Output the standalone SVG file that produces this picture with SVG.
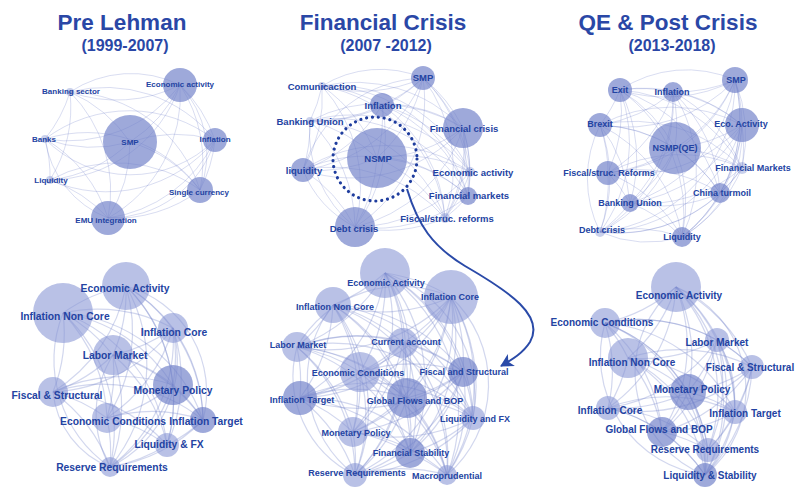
<svg xmlns="http://www.w3.org/2000/svg" width="801" height="488" viewBox="0 0 801 488">
  <defs>
    <style>
      .title{font-family:"Liberation Sans",Arial,sans-serif;font-weight:bold;fill:#2a47a6;text-anchor:middle}
      .h1{font-size:22.5px}
      .h2{font-size:16px}
      .t{font-family:"Liberation Sans",Arial,sans-serif;font-weight:bold;fill:#2343a2;text-anchor:middle}
      .n{fill:#7080c9;fill-opacity:.68}
      .nl{fill:#8794d4;fill-opacity:.58}
      .ns{fill:#7b8bcf;fill-opacity:.4}
      .e path{fill:none;stroke:#7282ca;stroke-opacity:.3;stroke-width:.9}
      .eb path{fill:none;stroke:#7282ca;stroke-opacity:.32;stroke-width:1.2}
      .fs8{font-size:8px}
      .fs95{font-size:9.5px}
      .fs9{font-size:9px}
      .fs10{font-size:10px}
      .fs103{font-size:10.3px}
    </style>
    <marker id="arrowhead" markerUnits="userSpaceOnUse" markerWidth="16" markerHeight="16" refX="12" refY="7" orient="auto">
      <path d="M0 0L13 7L0 14L3.5 7Z" fill="#2a4aa8"/>
    </marker>
  </defs>
  <rect width="801" height="488" fill="#ffffff"/>

  <!-- period headings -->
  <g id="titles">
    <text class="title h1" x="122" y="30">Pre Lehman</text>
    <text class="title h2" x="125" y="51">(1999-2007)</text>
    <text class="title h1" x="383" y="30">Financial Crisis</text>
    <text class="title h2" x="386" y="51">(2007 -2012)</text>
    <text class="title h1" x="668" y="30">QE &amp; Post Crisis</text>
    <text class="title h2" x="672" y="51">(2013-2018)</text>
  </g>

  <!-- edges: every network, arcs between topic nodes -->
  <g id="connectors">
    <g id="edges-pre-lehman" class="e">
      <path d="M180 85A140 140 0 0 1 70 92"/>
      <path d="M180 85A140 140 0 0 1 130 142"/>
      <path d="M180 85A140 140 0 0 1 45 139"/>
      <path d="M180 85A140 140 0 0 1 215 140"/>
      <path d="M180 85A140 140 0 0 1 50 180"/>
      <path d="M180 85A140 140 0 0 1 200 190"/>
      <path d="M180 85A140 140 0 0 1 108 218"/>
      <path d="M70 92A140 140 0 0 1 130 142"/>
      <path d="M70 92A140 140 0 0 1 45 139"/>
      <path d="M70 92A140 140 0 0 1 215 140"/>
      <path d="M70 92A140 140 0 0 1 50 180"/>
      <path d="M70 92A140 140 0 0 1 200 190"/>
      <path d="M70 92A140 140 0 0 1 108 218"/>
      <path d="M130 142A140 140 0 0 1 45 139"/>
      <path d="M130 142A140 140 0 0 1 215 140"/>
      <path d="M130 142A140 140 0 0 1 50 180"/>
      <path d="M130 142A140 140 0 0 1 200 190"/>
      <path d="M130 142A140 140 0 0 1 108 218"/>
      <path d="M45 139A140 140 0 0 1 215 140"/>
      <path d="M45 139A140 140 0 0 1 50 180"/>
      <path d="M45 139A140 140 0 0 1 200 190"/>
      <path d="M45 139A140 140 0 0 1 108 218"/>
      <path d="M215 140A140 140 0 0 1 50 180"/>
      <path d="M215 140A140 140 0 0 1 200 190"/>
      <path d="M215 140A140 140 0 0 1 108 218"/>
      <path d="M50 180A140 140 0 0 1 200 190"/>
      <path d="M50 180A140 140 0 0 1 108 218"/>
      <path d="M200 190A140 140 0 0 1 108 218"/>
      <path d="M70 92A110 110 0 0 1 180 85"/>
      <path d="M45 139A100 100 0 0 0 108 218"/>
      <path d="M180 85A100 100 0 0 1 200 190"/>
      <path d="M45 139A120 120 0 0 0 215 140"/>
      <path d="M108 218A110 110 0 0 0 215 140"/>
    </g>
    <g id="edges-financial-crisis" class="e">
      <path d="M423 78A150 150 0 0 1 322 86"/>
      <path d="M423 78A150 150 0 0 1 382 105"/>
      <path d="M423 78A150 150 0 0 1 310 121"/>
      <path d="M423 78A150 150 0 0 1 463 128"/>
      <path d="M423 78A150 150 0 0 1 377 158"/>
      <path d="M423 78A150 150 0 0 1 303 170"/>
      <path d="M423 78A150 150 0 0 1 470 172"/>
      <path d="M423 78A150 150 0 0 1 468 196"/>
      <path d="M423 78A150 150 0 0 1 445 218"/>
      <path d="M423 78A150 150 0 0 1 355 227"/>
      <path d="M322 86A150 150 0 0 1 382 105"/>
      <path d="M322 86A150 150 0 0 1 310 121"/>
      <path d="M322 86A150 150 0 0 1 463 128"/>
      <path d="M322 86A150 150 0 0 1 377 158"/>
      <path d="M322 86A150 150 0 0 1 303 170"/>
      <path d="M322 86A150 150 0 0 1 470 172"/>
      <path d="M322 86A150 150 0 0 1 468 196"/>
      <path d="M322 86A150 150 0 0 1 445 218"/>
      <path d="M322 86A150 150 0 0 1 355 227"/>
      <path d="M382 105A150 150 0 0 1 310 121"/>
      <path d="M382 105A150 150 0 0 1 463 128"/>
      <path d="M382 105A150 150 0 0 1 377 158"/>
      <path d="M382 105A150 150 0 0 1 303 170"/>
      <path d="M382 105A150 150 0 0 1 470 172"/>
      <path d="M382 105A150 150 0 0 1 468 196"/>
      <path d="M382 105A150 150 0 0 1 445 218"/>
      <path d="M382 105A150 150 0 0 1 355 227"/>
      <path d="M310 121A150 150 0 0 1 463 128"/>
      <path d="M310 121A150 150 0 0 1 377 158"/>
      <path d="M310 121A150 150 0 0 1 303 170"/>
      <path d="M310 121A150 150 0 0 1 470 172"/>
      <path d="M310 121A150 150 0 0 1 468 196"/>
      <path d="M310 121A150 150 0 0 1 445 218"/>
      <path d="M310 121A150 150 0 0 1 355 227"/>
      <path d="M463 128A150 150 0 0 1 377 158"/>
      <path d="M463 128A150 150 0 0 1 303 170"/>
      <path d="M463 128A150 150 0 0 1 470 172"/>
      <path d="M463 128A150 150 0 0 1 468 196"/>
      <path d="M463 128A150 150 0 0 1 445 218"/>
      <path d="M463 128A150 150 0 0 1 355 227"/>
      <path d="M377 158A150 150 0 0 1 303 170"/>
      <path d="M377 158A150 150 0 0 1 470 172"/>
      <path d="M377 158A150 150 0 0 1 468 196"/>
      <path d="M377 158A150 150 0 0 1 445 218"/>
      <path d="M377 158A150 150 0 0 1 355 227"/>
      <path d="M303 170A150 150 0 0 1 470 172"/>
      <path d="M303 170A150 150 0 0 1 468 196"/>
      <path d="M303 170A150 150 0 0 1 445 218"/>
      <path d="M303 170A150 150 0 0 1 355 227"/>
      <path d="M470 172A150 150 0 0 1 468 196"/>
      <path d="M470 172A150 150 0 0 1 445 218"/>
      <path d="M470 172A150 150 0 0 1 355 227"/>
      <path d="M468 196A150 150 0 0 1 445 218"/>
      <path d="M468 196A150 150 0 0 1 355 227"/>
      <path d="M445 218A150 150 0 0 1 355 227"/>
      <path d="M322 86A110 110 0 0 1 423 78"/>
      <path d="M303 170A110 110 0 0 0 355 227"/>
      <path d="M463 128A120 120 0 0 1 445 218"/>
      <path d="M310 121A120 120 0 0 0 355 227"/>
      <path d="M303 170A130 130 0 0 1 423 78"/>
    </g>
    <g id="edges-qe-post-crisis" class="e">
      <path d="M735 80A150 150 0 0 1 620 90"/>
      <path d="M735 80A150 150 0 0 1 673 92"/>
      <path d="M735 80A150 150 0 0 1 600 125"/>
      <path d="M735 80A150 150 0 0 1 742 125"/>
      <path d="M735 80A150 150 0 0 1 675 148"/>
      <path d="M735 80A150 150 0 0 1 608 173"/>
      <path d="M735 80A150 150 0 0 1 742 168"/>
      <path d="M735 80A150 150 0 0 1 720 193"/>
      <path d="M735 80A150 150 0 0 1 630 203"/>
      <path d="M735 80A150 150 0 0 1 600 232"/>
      <path d="M735 80A150 150 0 0 1 682 237"/>
      <path d="M620 90A150 150 0 0 1 673 92"/>
      <path d="M620 90A150 150 0 0 1 600 125"/>
      <path d="M620 90A150 150 0 0 1 742 125"/>
      <path d="M620 90A150 150 0 0 1 675 148"/>
      <path d="M620 90A150 150 0 0 1 608 173"/>
      <path d="M620 90A150 150 0 0 1 742 168"/>
      <path d="M620 90A150 150 0 0 1 720 193"/>
      <path d="M620 90A150 150 0 0 1 630 203"/>
      <path d="M620 90A150 150 0 0 1 600 232"/>
      <path d="M620 90A150 150 0 0 1 682 237"/>
      <path d="M673 92A150 150 0 0 1 600 125"/>
      <path d="M673 92A150 150 0 0 1 742 125"/>
      <path d="M673 92A150 150 0 0 1 675 148"/>
      <path d="M673 92A150 150 0 0 1 608 173"/>
      <path d="M673 92A150 150 0 0 1 742 168"/>
      <path d="M673 92A150 150 0 0 1 720 193"/>
      <path d="M673 92A150 150 0 0 1 630 203"/>
      <path d="M673 92A150 150 0 0 1 600 232"/>
      <path d="M673 92A150 150 0 0 1 682 237"/>
      <path d="M600 125A150 150 0 0 1 742 125"/>
      <path d="M600 125A150 150 0 0 1 675 148"/>
      <path d="M600 125A150 150 0 0 1 608 173"/>
      <path d="M600 125A150 150 0 0 1 742 168"/>
      <path d="M600 125A150 150 0 0 1 720 193"/>
      <path d="M600 125A150 150 0 0 1 630 203"/>
      <path d="M600 125A150 150 0 0 1 600 232"/>
      <path d="M600 125A150 150 0 0 1 682 237"/>
      <path d="M742 125A150 150 0 0 1 675 148"/>
      <path d="M742 125A150 150 0 0 1 608 173"/>
      <path d="M742 125A150 150 0 0 1 742 168"/>
      <path d="M742 125A150 150 0 0 1 720 193"/>
      <path d="M742 125A150 150 0 0 1 630 203"/>
      <path d="M742 125A150 150 0 0 1 600 232"/>
      <path d="M742 125A150 150 0 0 1 682 237"/>
      <path d="M675 148A150 150 0 0 1 608 173"/>
      <path d="M675 148A150 150 0 0 1 742 168"/>
      <path d="M675 148A150 150 0 0 1 720 193"/>
      <path d="M675 148A150 150 0 0 1 630 203"/>
      <path d="M675 148A150 150 0 0 1 600 232"/>
      <path d="M675 148A150 150 0 0 1 682 237"/>
      <path d="M608 173A150 150 0 0 1 742 168"/>
      <path d="M608 173A150 150 0 0 1 720 193"/>
      <path d="M608 173A150 150 0 0 1 630 203"/>
      <path d="M608 173A150 150 0 0 1 600 232"/>
      <path d="M608 173A150 150 0 0 1 682 237"/>
      <path d="M742 168A150 150 0 0 1 720 193"/>
      <path d="M742 168A150 150 0 0 1 630 203"/>
      <path d="M742 168A150 150 0 0 1 600 232"/>
      <path d="M742 168A150 150 0 0 1 682 237"/>
      <path d="M720 193A150 150 0 0 1 630 203"/>
      <path d="M720 193A150 150 0 0 1 600 232"/>
      <path d="M720 193A150 150 0 0 1 682 237"/>
      <path d="M630 203A150 150 0 0 1 600 232"/>
      <path d="M630 203A150 150 0 0 1 682 237"/>
      <path d="M600 232A150 150 0 0 1 682 237"/>
      <path d="M620 90A120 120 0 0 1 735 80"/>
      <path d="M600 125A120 120 0 0 0 600 232"/>
      <path d="M742 125A120 120 0 0 1 682 237"/>
      <path d="M600 232A120 120 0 0 0 682 237"/>
    </g>
    <g id="edges-pre-lehman-topics" class="eb">
      <path d="M63 313A160 160 0 0 1 126 286"/>
      <path d="M63 313A160 160 0 0 1 173 328"/>
      <path d="M63 313A160 160 0 0 1 113 355"/>
      <path d="M63 313A160 160 0 0 1 53 392"/>
      <path d="M63 313A160 160 0 0 1 173 385"/>
      <path d="M63 313A160 160 0 0 1 107 418"/>
      <path d="M63 313A160 160 0 0 1 203 420"/>
      <path d="M63 313A160 160 0 0 1 167 445"/>
      <path d="M63 313A160 160 0 0 1 110 467"/>
      <path d="M126 286A160 160 0 0 1 173 328"/>
      <path d="M126 286A160 160 0 0 1 113 355"/>
      <path d="M126 286A160 160 0 0 1 53 392"/>
      <path d="M126 286A160 160 0 0 1 173 385"/>
      <path d="M126 286A160 160 0 0 1 107 418"/>
      <path d="M126 286A160 160 0 0 1 203 420"/>
      <path d="M126 286A160 160 0 0 1 167 445"/>
      <path d="M126 286A160 160 0 0 1 110 467"/>
      <path d="M173 328A160 160 0 0 1 113 355"/>
      <path d="M173 328A160 160 0 0 1 53 392"/>
      <path d="M173 328A160 160 0 0 1 173 385"/>
      <path d="M173 328A160 160 0 0 1 107 418"/>
      <path d="M173 328A160 160 0 0 1 203 420"/>
      <path d="M173 328A160 160 0 0 1 167 445"/>
      <path d="M173 328A160 160 0 0 1 110 467"/>
      <path d="M113 355A160 160 0 0 1 53 392"/>
      <path d="M113 355A160 160 0 0 1 173 385"/>
      <path d="M113 355A160 160 0 0 1 107 418"/>
      <path d="M113 355A160 160 0 0 1 203 420"/>
      <path d="M113 355A160 160 0 0 1 167 445"/>
      <path d="M113 355A160 160 0 0 1 110 467"/>
      <path d="M53 392A160 160 0 0 1 173 385"/>
      <path d="M53 392A160 160 0 0 1 107 418"/>
      <path d="M53 392A160 160 0 0 1 203 420"/>
      <path d="M53 392A160 160 0 0 1 167 445"/>
      <path d="M53 392A160 160 0 0 1 110 467"/>
      <path d="M173 385A160 160 0 0 1 107 418"/>
      <path d="M173 385A160 160 0 0 1 203 420"/>
      <path d="M173 385A160 160 0 0 1 167 445"/>
      <path d="M173 385A160 160 0 0 1 110 467"/>
      <path d="M107 418A160 160 0 0 1 203 420"/>
      <path d="M107 418A160 160 0 0 1 167 445"/>
      <path d="M107 418A160 160 0 0 1 110 467"/>
      <path d="M203 420A160 160 0 0 1 167 445"/>
      <path d="M203 420A160 160 0 0 1 110 467"/>
      <path d="M167 445A160 160 0 0 1 110 467"/>
      <path d="M126 286A110 110 0 0 1 203 420"/>
      <path d="M53 392A90 90 0 0 0 110 467"/>
      <path d="M173 328A120 120 0 0 1 110 467"/>
      <path d="M63 313A130 130 0 0 0 110 467"/>
      <path d="M113 355A110 110 0 0 0 110 467"/>
    </g>
    <g id="edges-crisis-topics" class="eb">
      <path d="M385 273A170 170 0 0 1 451 297"/>
      <path d="M385 273A170 170 0 0 1 333 305"/>
      <path d="M385 273A170 170 0 0 1 297 347"/>
      <path d="M385 273A170 170 0 0 1 403 343"/>
      <path d="M385 273A170 170 0 0 1 360 372"/>
      <path d="M385 273A170 170 0 0 1 463 372"/>
      <path d="M385 273A170 170 0 0 1 300 398"/>
      <path d="M385 273A170 170 0 0 1 407 398"/>
      <path d="M385 273A170 170 0 0 1 473 418"/>
      <path d="M385 273A170 170 0 0 1 353 432"/>
      <path d="M385 273A170 170 0 0 1 410 453"/>
      <path d="M385 273A170 170 0 0 1 355 475"/>
      <path d="M385 273A170 170 0 0 1 447 475"/>
      <path d="M451 297A170 170 0 0 1 333 305"/>
      <path d="M451 297A170 170 0 0 1 297 347"/>
      <path d="M451 297A170 170 0 0 1 403 343"/>
      <path d="M451 297A170 170 0 0 1 360 372"/>
      <path d="M451 297A170 170 0 0 1 463 372"/>
      <path d="M451 297A170 170 0 0 1 300 398"/>
      <path d="M451 297A170 170 0 0 1 407 398"/>
      <path d="M451 297A170 170 0 0 1 473 418"/>
      <path d="M451 297A170 170 0 0 1 353 432"/>
      <path d="M451 297A170 170 0 0 1 410 453"/>
      <path d="M451 297A170 170 0 0 1 355 475"/>
      <path d="M451 297A170 170 0 0 1 447 475"/>
      <path d="M333 305A170 170 0 0 1 297 347"/>
      <path d="M333 305A170 170 0 0 1 403 343"/>
      <path d="M333 305A170 170 0 0 1 360 372"/>
      <path d="M333 305A170 170 0 0 1 463 372"/>
      <path d="M333 305A170 170 0 0 1 300 398"/>
      <path d="M333 305A170 170 0 0 1 407 398"/>
      <path d="M333 305A170 170 0 0 1 473 418"/>
      <path d="M333 305A170 170 0 0 1 353 432"/>
      <path d="M333 305A170 170 0 0 1 410 453"/>
      <path d="M333 305A170 170 0 0 1 355 475"/>
      <path d="M333 305A170 170 0 0 1 447 475"/>
      <path d="M297 347A170 170 0 0 1 403 343"/>
      <path d="M297 347A170 170 0 0 1 360 372"/>
      <path d="M297 347A170 170 0 0 1 463 372"/>
      <path d="M297 347A170 170 0 0 1 300 398"/>
      <path d="M297 347A170 170 0 0 1 407 398"/>
      <path d="M297 347A170 170 0 0 1 473 418"/>
      <path d="M297 347A170 170 0 0 1 353 432"/>
      <path d="M297 347A170 170 0 0 1 410 453"/>
      <path d="M297 347A170 170 0 0 1 355 475"/>
      <path d="M297 347A170 170 0 0 1 447 475"/>
      <path d="M403 343A170 170 0 0 1 360 372"/>
      <path d="M403 343A170 170 0 0 1 463 372"/>
      <path d="M403 343A170 170 0 0 1 300 398"/>
      <path d="M403 343A170 170 0 0 1 407 398"/>
      <path d="M403 343A170 170 0 0 1 473 418"/>
      <path d="M403 343A170 170 0 0 1 353 432"/>
      <path d="M403 343A170 170 0 0 1 410 453"/>
      <path d="M403 343A170 170 0 0 1 355 475"/>
      <path d="M403 343A170 170 0 0 1 447 475"/>
      <path d="M360 372A170 170 0 0 1 463 372"/>
      <path d="M360 372A170 170 0 0 1 300 398"/>
      <path d="M360 372A170 170 0 0 1 407 398"/>
      <path d="M360 372A170 170 0 0 1 473 418"/>
      <path d="M360 372A170 170 0 0 1 353 432"/>
      <path d="M360 372A170 170 0 0 1 410 453"/>
      <path d="M360 372A170 170 0 0 1 355 475"/>
      <path d="M360 372A170 170 0 0 1 447 475"/>
      <path d="M463 372A170 170 0 0 1 300 398"/>
      <path d="M463 372A170 170 0 0 1 407 398"/>
      <path d="M463 372A170 170 0 0 1 473 418"/>
      <path d="M463 372A170 170 0 0 1 353 432"/>
      <path d="M463 372A170 170 0 0 1 410 453"/>
      <path d="M463 372A170 170 0 0 1 355 475"/>
      <path d="M463 372A170 170 0 0 1 447 475"/>
      <path d="M300 398A170 170 0 0 1 407 398"/>
      <path d="M300 398A170 170 0 0 1 473 418"/>
      <path d="M300 398A170 170 0 0 1 353 432"/>
      <path d="M300 398A170 170 0 0 1 410 453"/>
      <path d="M300 398A170 170 0 0 1 355 475"/>
      <path d="M300 398A170 170 0 0 1 447 475"/>
      <path d="M407 398A170 170 0 0 1 473 418"/>
      <path d="M407 398A170 170 0 0 1 353 432"/>
      <path d="M407 398A170 170 0 0 1 410 453"/>
      <path d="M407 398A170 170 0 0 1 355 475"/>
      <path d="M407 398A170 170 0 0 1 447 475"/>
      <path d="M473 418A170 170 0 0 1 353 432"/>
      <path d="M473 418A170 170 0 0 1 410 453"/>
      <path d="M473 418A170 170 0 0 1 355 475"/>
      <path d="M473 418A170 170 0 0 1 447 475"/>
      <path d="M353 432A170 170 0 0 1 410 453"/>
      <path d="M353 432A170 170 0 0 1 355 475"/>
      <path d="M353 432A170 170 0 0 1 447 475"/>
      <path d="M410 453A170 170 0 0 1 355 475"/>
      <path d="M410 453A170 170 0 0 1 447 475"/>
      <path d="M355 475A170 170 0 0 1 447 475"/>
      <path d="M333 305A120 120 0 0 0 355 475"/>
      <path d="M451 297A120 120 0 0 1 447 475"/>
      <path d="M297 347A110 110 0 0 0 355 475"/>
      <path d="M385 273A130 130 0 0 1 473 418"/>
      <path d="M297 347A120 120 0 0 1 451 297"/>
    </g>
    <g id="edges-qe-topics" class="eb">
      <path d="M676 287A160 160 0 0 1 605 323"/>
      <path d="M676 287A160 160 0 0 1 717 340"/>
      <path d="M676 287A160 160 0 0 1 628 358"/>
      <path d="M676 287A160 160 0 0 1 752 367"/>
      <path d="M676 287A160 160 0 0 1 688 392"/>
      <path d="M676 287A160 160 0 0 1 608 408"/>
      <path d="M676 287A160 160 0 0 1 735 412"/>
      <path d="M676 287A160 160 0 0 1 662 432"/>
      <path d="M676 287A160 160 0 0 1 708 450"/>
      <path d="M676 287A160 160 0 0 1 705 475"/>
      <path d="M605 323A160 160 0 0 1 717 340"/>
      <path d="M605 323A160 160 0 0 1 628 358"/>
      <path d="M605 323A160 160 0 0 1 752 367"/>
      <path d="M605 323A160 160 0 0 1 688 392"/>
      <path d="M605 323A160 160 0 0 1 608 408"/>
      <path d="M605 323A160 160 0 0 1 735 412"/>
      <path d="M605 323A160 160 0 0 1 662 432"/>
      <path d="M605 323A160 160 0 0 1 708 450"/>
      <path d="M605 323A160 160 0 0 1 705 475"/>
      <path d="M717 340A160 160 0 0 1 628 358"/>
      <path d="M717 340A160 160 0 0 1 752 367"/>
      <path d="M717 340A160 160 0 0 1 688 392"/>
      <path d="M717 340A160 160 0 0 1 608 408"/>
      <path d="M717 340A160 160 0 0 1 735 412"/>
      <path d="M717 340A160 160 0 0 1 662 432"/>
      <path d="M717 340A160 160 0 0 1 708 450"/>
      <path d="M717 340A160 160 0 0 1 705 475"/>
      <path d="M628 358A160 160 0 0 1 752 367"/>
      <path d="M628 358A160 160 0 0 1 688 392"/>
      <path d="M628 358A160 160 0 0 1 608 408"/>
      <path d="M628 358A160 160 0 0 1 735 412"/>
      <path d="M628 358A160 160 0 0 1 662 432"/>
      <path d="M628 358A160 160 0 0 1 708 450"/>
      <path d="M628 358A160 160 0 0 1 705 475"/>
      <path d="M752 367A160 160 0 0 1 688 392"/>
      <path d="M752 367A160 160 0 0 1 608 408"/>
      <path d="M752 367A160 160 0 0 1 735 412"/>
      <path d="M752 367A160 160 0 0 1 662 432"/>
      <path d="M752 367A160 160 0 0 1 708 450"/>
      <path d="M752 367A160 160 0 0 1 705 475"/>
      <path d="M688 392A160 160 0 0 1 608 408"/>
      <path d="M688 392A160 160 0 0 1 735 412"/>
      <path d="M688 392A160 160 0 0 1 662 432"/>
      <path d="M688 392A160 160 0 0 1 708 450"/>
      <path d="M688 392A160 160 0 0 1 705 475"/>
      <path d="M608 408A160 160 0 0 1 735 412"/>
      <path d="M608 408A160 160 0 0 1 662 432"/>
      <path d="M608 408A160 160 0 0 1 708 450"/>
      <path d="M608 408A160 160 0 0 1 705 475"/>
      <path d="M735 412A160 160 0 0 1 662 432"/>
      <path d="M735 412A160 160 0 0 1 708 450"/>
      <path d="M735 412A160 160 0 0 1 705 475"/>
      <path d="M662 432A160 160 0 0 1 708 450"/>
      <path d="M662 432A160 160 0 0 1 705 475"/>
      <path d="M708 450A160 160 0 0 1 705 475"/>
      <path d="M676 287A110 110 0 0 1 705 475"/>
      <path d="M676 287A110 110 0 0 0 705 475"/>
      <path d="M605 323A120 120 0 0 0 705 475"/>
      <path d="M717 340A110 110 0 0 1 705 475"/>
    </g>
    <!-- NSMP highlight and link to the crisis-era topics -->
    <circle id="nsmp-ring" cx="375" cy="159" r="42" fill="none" stroke="#1f3d9e" stroke-width="3.2" stroke-linecap="round" stroke-dasharray="0.01 5.9"/>
    <path id="nsmp-link" d="M407 189C418 225 432 246 465 266C510 292 545 316 530 342C523 353 513 359 501 366" fill="none" stroke="#2a4aa8" stroke-width="2" marker-end="url(#arrowhead)"/>
  </g>

  <!-- Pre Lehman: policy themes -->
  <g id="pl-eco-activity"><circle class="n" cx="180" cy="85" r="17"/><text class="t fs8" x="180" y="87">Economic activity</text></g>
  <g id="pl-banking-sector"><circle class="ns" cx="70" cy="92" r="4"/><text class="t fs8" x="71" y="94">Banking sector</text></g>
  <g id="pl-smp"><circle class="n" cx="130" cy="142" r="27"/><text class="t fs8" x="130" y="145">SMP</text></g>
  <g id="pl-banks"><circle class="ns" cx="45" cy="139" r="4"/><text class="t fs8" x="44" y="142">Banks</text></g>
  <g id="pl-inflation"><circle class="n" cx="215" cy="140" r="12"/><text class="t fs8" x="215" y="142">Inflation</text></g>
  <g id="pl-liquidity"><circle class="ns" cx="50" cy="180" r="4"/><text class="t fs8" x="51" y="183">Liquidity</text></g>
  <g id="pl-single-currency"><circle class="n" cx="200" cy="190" r="13"/><text class="t fs8" x="199" y="195">Single currency</text></g>
  <g id="pl-emu"><circle class="n" cx="108" cy="218" r="17"/><text class="t fs8" x="106" y="223">EMU integration</text></g>

  <!-- Financial Crisis: policy themes -->
  <g id="fc-smp"><circle class="n" cx="423" cy="78" r="12"/><text class="t fs95" x="423" y="80.5">SMP</text></g>
  <g id="fc-communication"><circle class="ns" cx="322" cy="86" r="4"/><text class="t fs95" x="322" y="89.5">Comunicaction</text></g>
  <g id="fc-inflation"><circle class="n" cx="382" cy="105" r="12"/><text class="t fs95" x="383" y="108.5">Inflation</text></g>
  <g id="fc-banking-union"><circle class="ns" cx="310" cy="121" r="4"/><text class="t fs95" x="310" y="124.5">Banking Union</text></g>
  <g id="fc-financial-crisis"><circle class="n" cx="463" cy="128" r="20"/><text class="t fs95" x="464" y="131.5">Financial crisis</text></g>
  <g id="fc-nsmp"><circle class="n" cx="377" cy="158" r="30"/><text class="t fs95" x="378" y="161.5">NSMP</text></g>
  <g id="fc-liquidity"><circle class="n" cx="303" cy="170" r="12"/><text class="t fs95" x="304" y="173.5">liquidity</text></g>
  <g id="fc-eco-activity"><circle class="ns" cx="470" cy="172" r="5"/><text class="t fs95" x="473" y="175.5">Economic activity</text></g>
  <g id="fc-financial-markets"><circle class="n" cx="468" cy="196" r="9"/><text class="t fs95" x="469" y="198.5">Financial markets</text></g>
  <g id="fc-fiscal-reforms"><circle class="ns" cx="445" cy="218" r="5"/><text class="t fs95" x="447" y="221.5">Fiscal/struc. reforms</text></g>
  <g id="fc-debt-crisis"><circle class="n" cx="355" cy="227" r="20"/><text class="t fs95" x="354" y="231.5">Debt crisis</text></g>

  <!-- QE & Post Crisis: policy themes -->
  <g id="qe-smp"><circle class="n" cx="735" cy="80" r="13"/><text class="t fs9" x="736" y="83">SMP</text></g>
  <g id="qe-exit"><circle class="n" cx="620" cy="90" r="12"/><text class="t fs9" x="620" y="93">Exit</text></g>
  <g id="qe-inflation"><circle class="n" cx="673" cy="92" r="10"/><text class="t fs9" x="672" y="95">Inflation</text></g>
  <g id="qe-brexit"><circle class="n" cx="600" cy="125" r="12"/><text class="t fs9" x="600" y="127">Brexit</text></g>
  <g id="qe-eco-activity"><circle class="n" cx="742" cy="125" r="17"/><text class="t fs9" x="741" y="127">Eco. Activity</text></g>
  <g id="qe-nsmp"><circle class="n" cx="675" cy="148" r="26"/><text class="t fs9" x="675" y="151">NSMP(QE)</text></g>
  <g id="qe-fiscal-reforms"><circle class="n" cx="608" cy="173" r="12"/><text class="t fs9" x="609" y="176">Fiscal/struc. Reforms</text></g>
  <g id="qe-financial-markets"><circle class="ns" cx="742" cy="168" r="6"/><text class="t fs9" x="753" y="171">Financial Markets</text></g>
  <g id="qe-china"><circle class="n" cx="720" cy="193" r="10"/><text class="t fs9" x="722" y="196">China turmoil</text></g>
  <g id="qe-banking-union"><circle class="n" cx="630" cy="203" r="9"/><text class="t fs9" x="630" y="206">Banking Union</text></g>
  <g id="qe-debt-crisis"><circle class="ns" cx="600" cy="232" r="5"/><text class="t fs9" x="602" y="233">Debt crisis</text></g>
  <g id="qe-liquidity"><circle class="n" cx="682" cy="237" r="10"/><text class="t fs9" x="682" y="240">Liquidity</text></g>

  <!-- Pre Lehman: economic topics -->
  <g id="pt-infl-noncore"><circle class="nl" cx="63" cy="313" r="30"/><text class="t fs103" x="65" y="319.7">Inflation Non Core</text></g>
  <g id="pt-eco-activity"><circle class="nl" cx="126" cy="286" r="24"/><text class="t fs103" x="125" y="291.7">Economic Activity</text></g>
  <g id="pt-infl-core"><circle class="nl" cx="173" cy="328" r="15"/><text class="t fs103" x="174" y="335.7">Inflation Core</text></g>
  <g id="pt-labor"><circle class="nl" cx="113" cy="355" r="20"/><text class="t fs103" x="115" y="358.7">Labor Market</text></g>
  <g id="pt-fiscal"><circle class="nl" cx="53" cy="392" r="15"/><text class="t fs103" x="57" y="398.7">Fiscal &amp; Structural</text></g>
  <g id="pt-monetary"><circle class="n" cx="173" cy="385" r="20"/><text class="t fs103" x="173" y="393.7">Monetary Policy</text></g>
  <g id="pt-eco-conditions"><circle class="nl" cx="107" cy="418" r="15"/><text class="t fs103" x="113" y="424.7">Economic Conditions</text></g>
  <g id="pt-infl-target"><circle class="n" cx="203" cy="420" r="13"/><text class="t fs103" x="206" y="424.7">Inflation Target</text></g>
  <g id="pt-liquidity-fx"><circle class="nl" cx="167" cy="445" r="12"/><text class="t fs103" x="169" y="447.7">Liquidity &amp; FX</text></g>
  <g id="pt-reserve"><circle class="nl" cx="110" cy="467" r="10"/><text class="t fs103" x="112" y="470.7">Reserve Requirements</text></g>

  <!-- Financial Crisis: economic topics -->
  <g id="ct-eco-activity"><circle class="nl" cx="385" cy="273" r="25"/><text class="t fs9" x="386" y="286">Economic Activity</text></g>
  <g id="ct-infl-core"><circle class="nl" cx="451" cy="297" r="27"/><text class="t fs9" x="450" y="300">Inflation Core</text></g>
  <g id="ct-infl-noncore"><circle class="nl" cx="333" cy="305" r="18"/><text class="t fs9" x="335" y="310">Inflation Non Core</text></g>
  <g id="ct-labor"><circle class="nl" cx="297" cy="347" r="15"/><text class="t fs9" x="298" y="348">Labor Market</text></g>
  <g id="ct-current-account"><circle class="nl" cx="403" cy="343" r="15"/><text class="t fs9" x="406" y="345">Current account</text></g>
  <g id="ct-eco-conditions"><circle class="nl" cx="360" cy="372" r="20"/><text class="t fs9" x="358" y="376">Economic Conditions</text></g>
  <g id="ct-fiscal"><circle class="n" cx="463" cy="372" r="15"/><text class="t fs9" x="464" y="375">Fiscal and Structural</text></g>
  <g id="ct-infl-target"><circle class="n" cx="300" cy="398" r="17"/><text class="t fs9" x="302" y="403">Inflation Target</text></g>
  <g id="ct-global-flows"><circle class="n" cx="407" cy="398" r="20"/><text class="t fs9" x="415" y="404">Global Flows and BOP</text></g>
  <g id="ct-liquidity-fx"><circle class="nl" cx="473" cy="418" r="12"/><text class="t fs9" x="475" y="422">Liquidity and FX</text></g>
  <g id="ct-monetary"><circle class="nl" cx="353" cy="432" r="15"/><text class="t fs9" x="356" y="436">Monetary Policy</text></g>
  <g id="ct-fin-stability"><circle class="n" cx="410" cy="453" r="15"/><text class="t fs9" x="411" y="456">Financial Stability</text></g>
  <g id="ct-reserve"><circle class="nl" cx="355" cy="475" r="12"/><text class="t fs9" x="357" y="476">Reserve Requirements</text></g>
  <g id="ct-macroprudential"><circle class="nl" cx="447" cy="475" r="10"/><text class="t fs9" x="447" y="479">Macroprudential</text></g>

  <!-- QE & Post Crisis: economic topics -->
  <g id="qt-eco-activity"><circle class="nl" cx="676" cy="287" r="25"/><text class="t fs10" x="679" y="298.5">Economic Activity</text></g>
  <g id="qt-eco-conditions"><circle class="nl" cx="605" cy="323" r="15"/><text class="t fs10" x="602" y="325.5">Economic Conditions</text></g>
  <g id="qt-labor"><circle class="nl" cx="717" cy="340" r="12"/><text class="t fs10" x="717" y="345.5">Labor Market</text></g>
  <g id="qt-infl-noncore"><circle class="nl" cx="628" cy="358" r="20"/><text class="t fs10" x="632" y="365.5">Inflation Non Core</text></g>
  <g id="qt-fiscal"><circle class="nl" cx="752" cy="367" r="12"/><text class="t fs10" x="750" y="370.5">Fiscal &amp; Structural</text></g>
  <g id="qt-monetary"><circle class="n" cx="688" cy="392" r="18"/><text class="t fs10" x="692" y="392.5">Monetary Policy</text></g>
  <g id="qt-infl-core"><circle class="nl" cx="608" cy="408" r="12"/><text class="t fs10" x="610" y="413.5">Inflation Core</text></g>
  <g id="qt-infl-target"><circle class="nl" cx="735" cy="412" r="12"/><text class="t fs10" x="745" y="416.5">Inflation Target</text></g>
  <g id="qt-global-flows"><circle class="n" cx="662" cy="432" r="15"/><text class="t fs10" x="659" y="432.5">Global Flows and BOP</text></g>
  <g id="qt-reserve"><circle class="nl" cx="708" cy="450" r="12"/><text class="t fs10" x="705" y="452.5">Reserve Requirements</text></g>
  <g id="qt-liquidity"><circle class="n" cx="705" cy="475" r="12"/><text class="t fs10" x="710" y="478.5">Liquidity &amp; Stability</text></g>
</svg>
